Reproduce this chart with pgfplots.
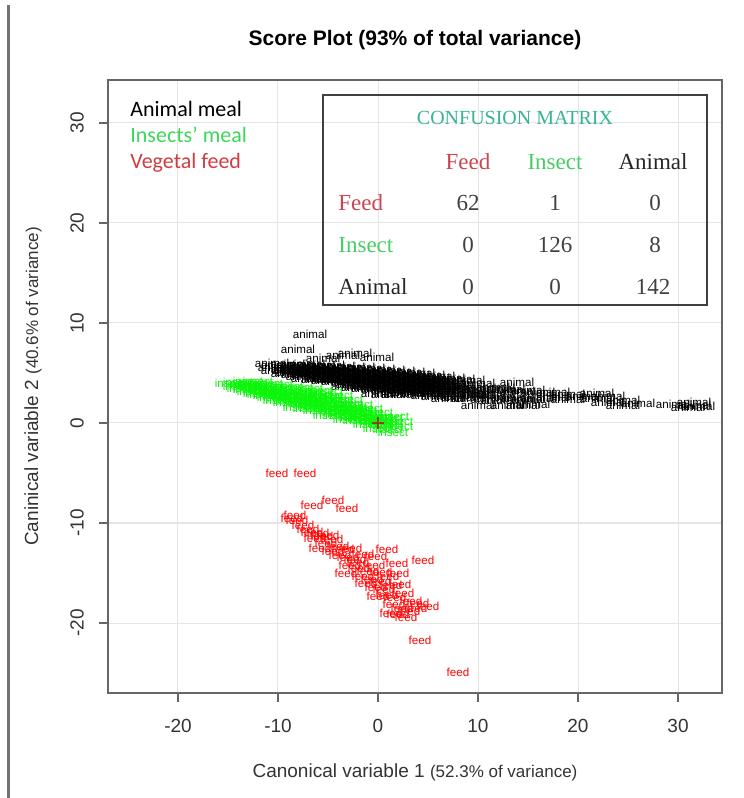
\documentclass[border=0pt]{standalone}
\usepackage{pgfplots}
\pgfplotsset{compat=1.18}
\usepackage{fontspec}
\setmainfont{Liberation Sans}
\newfontfamily\carlito{Carlito}
\newfontfamily\cambria{Liberation Serif}
\usetikzlibrary{calc}

\definecolor{insectpt}{RGB}{10,245,10}
\definecolor{feedpt}{RGB}{255,0,0}
\definecolor{legInsect}{RGB}{60,215,90}
\definecolor{legFeed}{RGB}{210,60,65}
\definecolor{matTeal}{RGB}{55,180,145}
\definecolor{matFeed}{RGB}{200,70,80}
\definecolor{matInsect}{RGB}{70,205,100}
\definecolor{centroid}{RGB}{140,70,20}

\begin{document}
\begin{tikzpicture}
\begin{axis}[
    scale only axis,
    width=307pt, height=306.5pt,
    xmin=-27, xmax=34.4,
    ymin=-27, ymax=34.3,
    xtick={-20,-10,0,10,20,30},
    xticklabels={-20,-10,0,10,20,30},
    ytick={-20,-10,0,10,20,30},
    yticklabels={-20,-10,0,10,20,30},
    tick align=outside,
    major tick length=4.5pt,
    tick style={black!60, line width=0.7pt},
    xtick pos=bottom, ytick pos=left,
    axis line style={black!60, line width=0.8pt},
    grid=major,
    major grid style={black!10, line width=0.5pt},
    ticklabel style={font=\fontsize{9.5}{11}\selectfont, text=black!80},
    xticklabel style={anchor=center, yshift=-12pt},
    yticklabel style={xshift=-11pt, rotate=90, anchor=center},
    title={Score Plot (93\% of total variance)},
    title style={font=\bfseries\fontsize{10.5}{12}\selectfont, at={(0.5,1)}, anchor=center, yshift=14pt},
    xlabel={Canonical variable 1 {\fontsize{8.5}{10}\selectfont(52.3\% of variance)}},
    every axis x label/.style={at={(axis description cs:0.5,0)}, anchor=center, yshift=-39.5pt, font=\fontsize{9.5}{11}\selectfont, text=black!80},
    ylabel={Caninical variable 2 {\fontsize{8.5}{10}\selectfont(40.6\% of variance)}},
    every axis y label/.style={at={(axis description cs:0,0.5)}, xshift=-37.5pt, rotate=90, anchor=center, font=\fontsize{9.5}{11}\selectfont, text=black!80},
    legend image code/.code={},
    legend style={at={(axis description cs:0,1)}, anchor=north west, xshift=11pt, yshift=-10pt,
        draw=none, fill=none, inner sep=0pt, row sep=2.5pt,
        nodes={inner sep=0pt, text height=8pt, text depth=2.5pt, anchor=west},
        font=\carlito\fontsize{11}{13}\selectfont},
    legend cell align=left,
    clip=false,
]

% animal meal
\addplot[only marks, color=black, mark=text, text mark={animal}, text mark as node=true,
    text mark style={font=\fontsize{5.8}{6}\selectfont, inner sep=0pt}]
coordinates {
(-6.8,8.9) (-8.0,7.4) (-2.3,7.0) (-0.1,6.6) (-5.5,6.5) (-3.5,6.8) (-10.6,6.0) (-10.3,5.6)
(-10,5.8) (-10,5.3) (-9,5.9) (-9,5.4) (-9,5.0) (-8,5.9) (-8,5.4) (-8,4.9)
(-7,5.9) (-7,5.4) (-7,4.9) (-7,4.5) (-6,5.8) (-6,5.3) (-6,4.8) (-6,4.4)
(-5,5.8) (-5,5.3) (-5,4.8) (-5,4.3) (-4,5.7) (-4,5.2) (-4,4.7) (-4,4.2)
(-3,5.6) (-3,5.1) (-3,4.6) (-3,4.1) (-3,3.7) (-2,5.6) (-2,5.1) (-2,4.6) (-2,4.1) (-2,3.6)
(-1,5.5) (-1,5.0) (-1,4.5) (-1,4.0) (-1,3.5) (0,5.4) (0,4.9) (0,4.4) (0,3.9) (0,3.4) (0,3.0)
(1,5.3) (1,4.8) (1,4.3) (1,3.8) (1,3.3) (1,2.9) (2,5.2) (2,4.7) (2,4.2) (2,3.7) (2,3.2) (2,2.9)
(3,5.1) (3,4.6) (3,4.1) (3,3.6) (3,3.1) (4,5.0) (4,4.5) (4,4.0) (4,3.5) (4,3.0)
(5,4.8) (5,4.3) (5,3.8) (5,3.3) (5,2.8) (6,4.7) (6,4.2) (6,3.7) (6,3.2) (6,2.7)
(7,4.5) (7,4.0) (7,3.5) (7,3.0) (7,2.5) (8,4.4) (8,3.8) (8,3.2) (8,2.6)
(9,4.3) (9,3.6) (9,3.0) (9,2.5) (10,4.0) (10,3.4) (10,2.8) (10,1.8)
(11.5,3.6) (11,3.0) (11,2.4) (12,3.5) (12,2.9) (12,2.3) (13,3.4) (13,2.6) (13,1.8)
(13.9,4.1) (14,3.2) (14,2.5) (14.5,1.8) (15,3.3) (15,2.4) (15.5,1.9) (16,3.1) (16,2.5)
(17.5,3.1) (17.5,2.6) (19,2.9) (19,2.4) (20.5,2.7) (21.9,3.0) (22,2.5) (23,2.7) (23,2.1)
(24.5,1.8) (24.5,2.3) (26,2.0) (29.5,1.9) (31,1.6) (31.6,1.8) (31.6,2.1) (32,1.7)
(-8.5,5.6) (-8.5,5.1) (-7.5,5.7) (-7.5,5.2) (-7.5,4.7) (-6.5,5.6) (-6.5,5.1)
(-5.5,5.5) (-5.5,5.0) (-5.5,4.5) (-4.5,5.4) (-4.5,4.9) (-4.5,4.4) (-3.5,5.4) (-3.5,4.9) (-3.5,4.4)
(-2.5,5.3) (-2.5,4.8) (-2.5,4.3) (-2.5,3.9) (-1.5,5.2) (-1.5,4.7) (-1.5,4.2) (-1.5,3.8)
(-0.5,5.2) (-0.5,4.7) (-0.5,4.2) (-0.5,3.7) (0.5,5.1) (0.5,4.6) (0.5,4.1) (0.5,3.6)
(1.5,5.0) (1.5,4.5) (1.5,4.0) (1.5,3.5) (2.5,4.9) (2.5,4.4) (2.5,3.9) (2.5,3.4)
(3.5,4.8) (3.5,4.3) (3.5,3.8) (3.5,3.3) (4.5,4.6) (4.5,4.1) (4.5,3.6)
(5.5,4.5) (5.5,4.0) (5.5,3.5) (5.5,3.0) (6.5,4.3) (6.5,3.8) (6.5,3.3)
(-8.8,5.3) (-6.2,5.0) (-3.8,4.5) (-1.2,4.4) (1.2,4.1) (3.8,3.7) (7.5,3.7) (8.5,3.4) (9.5,2.9)
};
\addlegendentry{\textcolor{black}{Animal meal}}

% insects' meal
\addplot[only marks, color=insectpt, mark=text, text mark={insect}, text mark as node=true,
    text mark style={font=\fontsize{5.8}{6}\selectfont, inner sep=0pt}]
coordinates {
(-14.8,4.0) (-14,4.1) (-14,3.7) (-13.5,3.9) (-13,4.2) (-13,3.8) (-13,3.4) (-12.5,3.6) (-12.5,4.0)
(-12,4.2) (-12,3.8) (-12,3.4) (-12,3.0) (-11.5,3.3) (-11.5,3.7) (-11,4.0) (-11,3.6) (-11,3.2) (-11,2.8)
(-10.5,3.0) (-10.5,3.4) (-10,3.9) (-10,3.5) (-10,3.1) (-10,2.7) (-10,2.3) (-9.5,2.8) (-9.5,3.2)
(-9,3.7) (-9,3.3) (-9,2.9) (-9,2.5) (-9,2.1) (-8.5,2.6) (-8.5,3.0)
(-8,3.6) (-8,3.2) (-8,2.8) (-8,2.4) (-8,2.0) (-8,1.6) (-7.5,2.4) (-7.5,2.0)
(-7,3.5) (-7,3.1) (-7,2.7) (-7,2.3) (-7,1.9) (-7,1.5) (-6.5,2.2) (-6.5,1.8)
(-6,3.3) (-6,2.9) (-6,2.5) (-6,2.1) (-6,1.7) (-6,1.3) (-5.5,2.0) (-5.5,2.6)
(-5,3.2) (-5,2.8) (-5,2.4) (-5,2.0) (-5,1.6) (-5,1.2) (-5,0.8) (-4.5,1.8) (-4.5,1.4)
(-4,2.8) (-4,2.4) (-4,2.0) (-4,1.6) (-4,1.2) (-4,0.8) (-3.5,1.4) (-3.5,1.0)
(-3,2.4) (-3,2.0) (-3,1.6) (-3,1.2) (-3,0.8) (-3,0.4) (-2.5,1.2) (-2.5,0.6)
(-2,1.9) (-2,1.5) (-2,1.1) (-2,0.7) (-2,0.3) (-1.5,0.9) (-1.5,0.5)
(-1,1.5) (-1,1.1) (-1,0.7) (-1,0.3) (-1,-0.1) (-0.5,0.6) (-0.5,0.2)
(0,1.1) (0,0.7) (0,0.3) (0,-0.1) (0,-0.5) (0.5,0.4) (0.5,0.0)
(1,0.6) (1,0.2) (1,-0.2) (1,-0.6) (2,0.2) (2,-0.3) (1.5,-0.9) (1.6,0.7)
(-13.6,3.5) (-12.6,3.2) (-11.6,2.9) (-10.6,2.6) (-9.6,2.4) (-8.6,2.2) (-7.6,2.9) (-6.6,2.6)
(-5.6,1.5) (-4.6,2.3) (-3.6,1.9) (-2.6,1.6) (-1.6,1.3)
};
\addlegendentry{\textcolor{legInsect}{Insects’ meal}}

% vegetal feed
\addplot[only marks, color=feedpt, mark=text, text mark={feed}, text mark as node=true,
    text mark style={font=\fontsize{5.8}{6}\selectfont, inner sep=0pt}]
coordinates {
(-10.1,-5.0) (-7.3,-5.0) (-4.5,-7.7) (-6.6,-8.2) (-3.1,-8.5) (-8.3,-9.2) (-8.1,-9.7) (-8.6,-9.5) (-7.5,-10.2)
(-7.0,-10.6) (-6.6,-10.9) (-6.0,-11.0) (-5.6,-11.3) (-5.0,-11.2) (-6.3,-11.5) (-4.6,-11.6) (-5.2,-12.0)
(-4.0,-12.3) (-3.5,-12.6) (-4.5,-12.8) (-2.7,-12.5) (0.9,-12.6) (-3.8,-13.2) (-3.0,-13.4) (-2.3,-13.6)
(-1.5,-13.1) (-0.2,-13.3) (1.9,-14.0) (4.5,-13.7)
(-2.8,-14.2) (-1.9,-14.5) (-1.0,-14.8) (-0.4,-14.2) (0.3,-14.9) (-1.5,-15.3) (-0.6,-15.6) (0.2,-15.8)
(1.0,-15.3) (2.0,-15.0) (-0.2,-16.4) (0.6,-16.6) (1.3,-16.2) (2.2,-16.1) (0.9,-17.2) (1.7,-17.4)
(2.5,-17.0) (3.3,-17.8) (4.0,-18.0) (5.0,-18.3) (1.6,-18.1) (2.4,-18.5) (3.1,-18.8) (2.0,-19.1)
(2.8,-19.4) (3.8,-18.5) (-1.2,-16.0) (-2.0,-13.9) (0.0,-17.3) (1.3,-19.0)
(4.2,-21.7) (8.0,-24.9) (-5.8,-12.5) (-3.2,-15.0)
};
\addlegendentry{\textcolor{legFeed}{Vegetal feed}}

% centroid
\addplot[forget plot, only marks, mark=+, mark size=3pt, color=centroid, line width=0.8pt]
coordinates {(0,0)};

% confusion matrix
\draw[black!75, line width=1pt] (axis cs:-5.5,11.8) rectangle (axis cs:32.9,32.8);
\begin{scope}[every node/.style={font=\cambria\fontsize{11.5}{13}\selectfont, inner sep=0pt}]
\node[text=matTeal, font=\cambria\fontsize{10}{12}\selectfont] at (axis cs:13.7,30.5) {CONFUSION MATRIX};
\node[text=matFeed] at (axis cs:9.0,26.1) {Feed};
\node[text=matInsect] at (axis cs:17.7,26.1) {Insect};
\node[text=black!85] at (axis cs:27.5,26.1) {Animal};
\node[text=matFeed, anchor=west] at (axis cs:-4.0,22.0) {Feed};
\node[text=matInsect, anchor=west] at (axis cs:-4.0,17.8) {Insect};
\node[text=black!85, anchor=west] at (axis cs:-4.0,13.6) {Animal};
\node[text=black!75] at (axis cs:9.0,22.0) {62};
\node[text=black!75] at (axis cs:17.7,22.0) {1};
\node[text=black!75] at (axis cs:27.7,22.0) {0};
\node[text=black!75] at (axis cs:9.0,17.8) {0};
\node[text=black!75] at (axis cs:17.7,17.8) {126};
\node[text=black!75] at (axis cs:27.7,17.8) {8};
\node[text=black!75] at (axis cs:9.0,13.6) {0};
\node[text=black!75] at (axis cs:17.7,13.6) {0};
\node[text=black!75] at (axis cs:27.5,13.6) {142};
\end{scope}
\end{axis}
\pgfresetboundingbox
\path[use as bounding box] ($(current axis.south west)+(-54pt,-52.5pt)$) rectangle ($(current axis.north east)+(11pt,40pt)$);
\draw[black!55, line width=1.25pt] ($(current axis.south west)+(-49.75pt,-52.5pt)$) -- ($(current axis.north west)+(-49.75pt,37.5pt)$);
\end{tikzpicture}
\end{document}
